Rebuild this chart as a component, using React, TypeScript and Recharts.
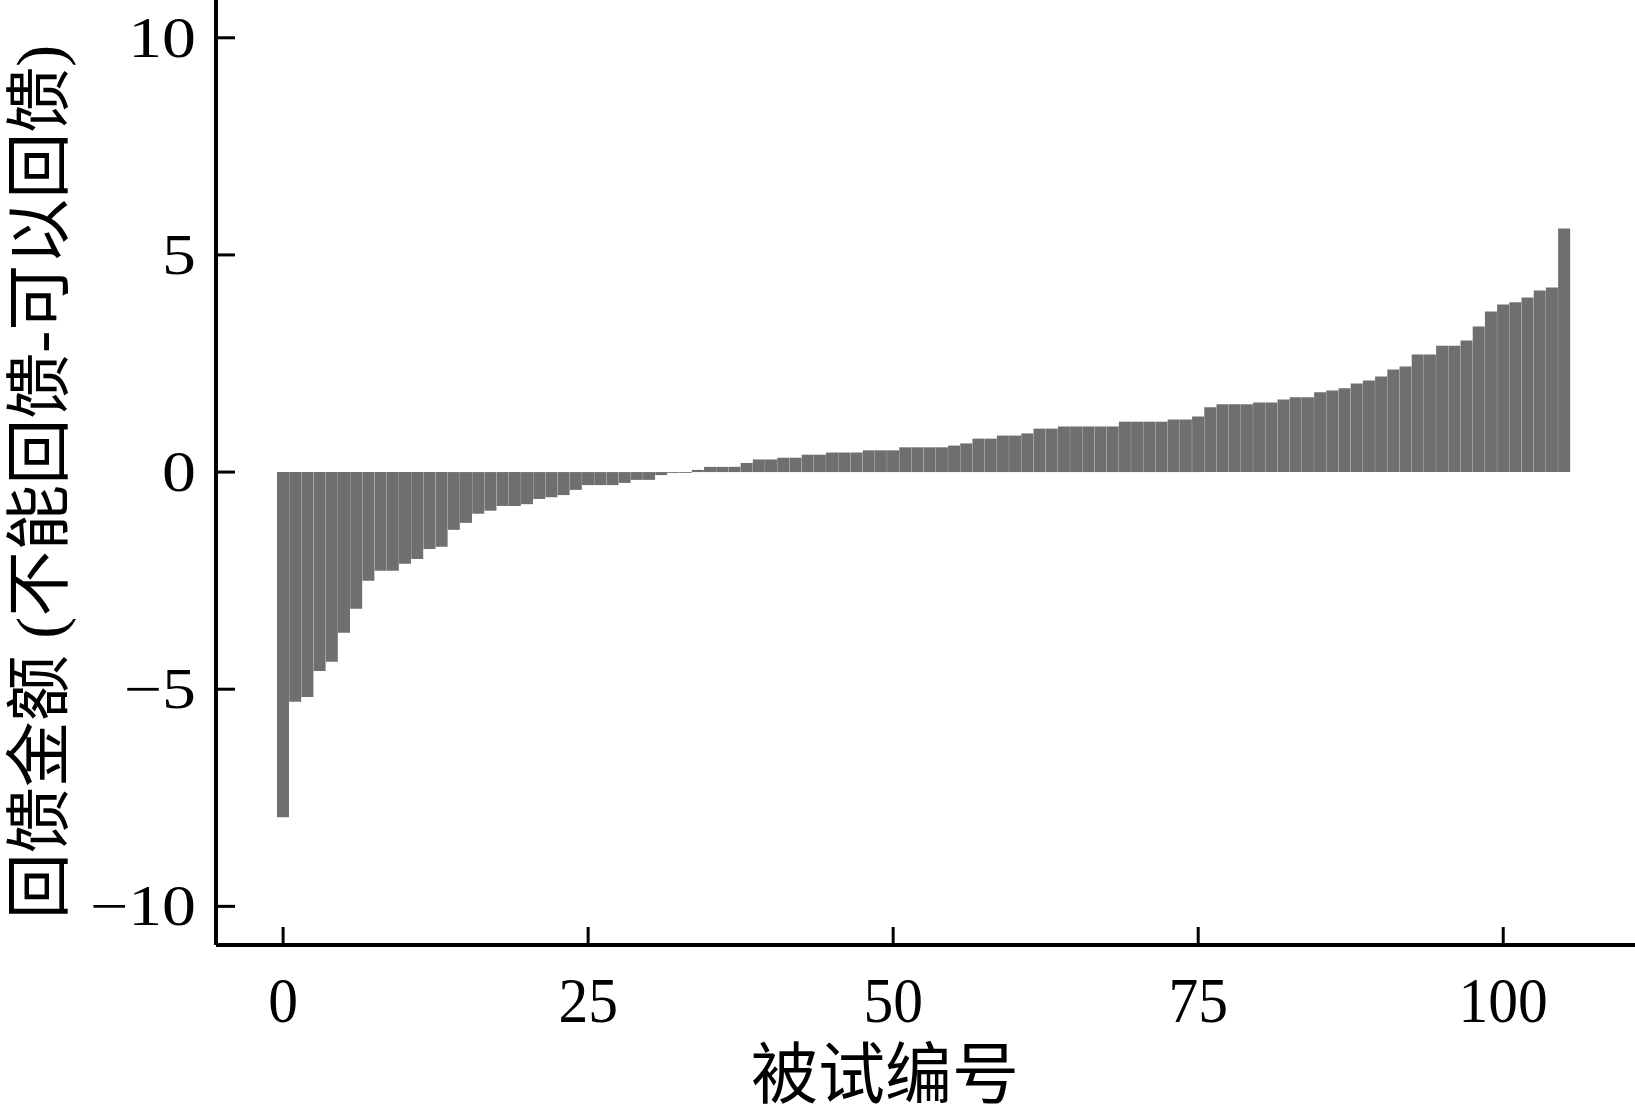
import React from 'react';
import { ComposedChart, Bar, XAxis, YAxis, Customized } from 'recharts';

// subject index (categories)
const subjectIds: number[] = [
  0, 1, 2, 3, 4, 5, 6, 7, 8, 9, 10, 11, 12, 13, 14, 15, 16, 17, 18, 19,
  20, 21, 22, 23, 24, 25, 26, 27, 28, 29, 30, 31, 32, 33, 34, 35, 36, 37, 38, 39,
  40, 41, 42, 43, 44, 45, 46, 47, 48, 49, 50, 51, 52, 53, 54, 55, 56, 57, 58, 59,
  60, 61, 62, 63, 64, 65, 66, 67, 68, 69, 70, 71, 72, 73, 74, 75, 76, 77, 78, 79,
  80, 81, 82, 83, 84, 85, 86, 87, 88, 89, 90, 91, 92, 93, 94, 95, 96, 97, 98, 99,
  100, 101, 102, 103, 104, 105,
];

// feedback difference (cannot feedback - can feedback)
const feedbackDiff: number[] = [
  -7.95, -5.29, -5.18, -4.58, -4.37, -3.70, -3.15, -2.50, -2.27, -2.27,
  -2.11, -2.00, -1.77, -1.72, -1.33, -1.17, -0.96, -0.89, -0.78, -0.78,
  -0.74, -0.62, -0.58, -0.53, -0.41, -0.30, -0.30, -0.30, -0.25, -0.18,
  -0.18, -0.07, -0.02, -0.02, 0.05, 0.12, 0.12, 0.12, 0.21, 0.29,
  0.29, 0.33, 0.33, 0.40, 0.40, 0.45, 0.45, 0.45, 0.50, 0.50,
  0.50, 0.57, 0.57, 0.57, 0.57, 0.61, 0.66, 0.77, 0.77, 0.84,
  0.84, 0.89, 1.00, 1.00, 1.05, 1.05, 1.05, 1.05, 1.05, 1.16,
  1.16, 1.16, 1.16, 1.21, 1.21, 1.28, 1.49, 1.56, 1.56, 1.56,
  1.60, 1.60, 1.67, 1.72, 1.72, 1.84, 1.88, 1.93, 2.04, 2.11,
  2.20, 2.36, 2.43, 2.71, 2.71, 2.91, 2.91, 3.03, 3.35, 3.70,
  3.86, 3.91, 4.02, 4.18, 4.25, 5.61,
];

const xTicks: number[] = [0, 25, 50, 75, 100];
const yTicks: number[] = [-10, -5, 0, 5, 10];
const xDomain: number[] = [-5.5, 110.8];
const yDomain: number[] = [-10.89, 10.87];

const xTitle = '被试编号';
const yTitle = '回馈金额 (不能回馈-可以回馈)';

const data = subjectIds.map((id, i) => ({ id, value: feedbackDiff[i] }));

const W = 1635;
const H = 1106;
const PLOT_LEFT = 216;
const PLOT_BOTTOM = 945;
const SERIF = "'Liberation Serif', 'Times New Roman', serif";
const CJK = "'Liberation Serif', 'Noto Sans CJK SC', serif";

function XTick(props: any) {
  const { x, payload } = props;
  return (
    <g>
      <line x1={x} x2={x} y1={PLOT_BOTTOM} y2={PLOT_BOTTOM - 18} stroke="#000" strokeWidth={3} />
      <text
        transform={`translate(${x},1022) scale(0.93,1)`}
        x={0}
        y={0}
        textAnchor="middle"
        fontFamily={SERIF}
        fontSize={64}
        fill="#000"
      >
        {String(payload.value)}
      </text>
    </g>
  );
}

function YTick(props: any) {
  const { y, payload } = props;
  const v = payload.value as number;
  const label = v < 0 ? '\u2212' + Math.abs(v) : String(v);
  return (
    <g>
      <line x1={PLOT_LEFT} x2={PLOT_LEFT + 19} y1={y} y2={y} stroke="#000" strokeWidth={3} />
      <text
        transform={`translate(196,${y + 19}) scale(1.19,1)`}
        x={0}
        y={0}
        textAnchor="end"
        fontFamily={SERIF}
        fontSize={57}
        fill="#000"
      >
        {label}
      </text>
    </g>
  );
}

function Titles() {
  return (
    <g>
      <text
        x={885}
        y={1098}
        textAnchor="middle"
        fontFamily={CJK}
        fontSize={67}
        fill="#000"
      >
        {xTitle}
      </text>
      <text
        transform="translate(62,482) rotate(-90)"
        x={0}
        y={0}
        textAnchor="middle"
        fontFamily={CJK}
        fontSize={66}
        fill="#000"
      >
        {yTitle}
      </text>
    </g>
  );
}

export default function App() {
  return (
    <div style={{ position: 'absolute', left: 0, top: 0, width: W, height: H, background: '#fff' }}>
      <ComposedChart
        width={W}
        height={H}
        data={data}
        margin={{ top: 0, right: 0, bottom: 0, left: 0 }}
        barCategoryGap={0}
        barGap={0}
      >
        <XAxis
          dataKey="id"
          type="number"
          domain={xDomain}
          ticks={xTicks}
          allowDataOverflow
          height={H - PLOT_BOTTOM}
          axisLine={{ stroke: '#000', strokeWidth: 4 }}
          tickLine={false}
          tick={<XTick />}
          interval={0}
        />
        <YAxis
          type="number"
          domain={yDomain}
          ticks={yTicks}
          allowDataOverflow
          width={PLOT_LEFT}
          axisLine={{ stroke: '#000', strokeWidth: 4 }}
          tickLine={false}
          tick={<YTick />}
          interval={0}
        />
        <Bar dataKey="value" fill="#6f6f6f" isAnimationActive={false} />
        <Customized component={<Titles />} />
      </ComposedChart>
    </div>
  );
}
